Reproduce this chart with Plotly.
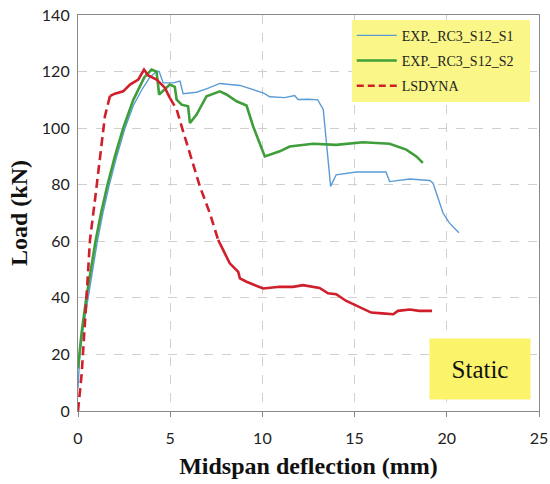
import plotly.graph_objects as go

# ---- data ----
s1_x = [0, 0.1, 0.3, 0.55, 0.8, 1.05, 1.35, 1.7, 2.1, 2.55, 3.0, 3.5, 3.9, 4.26, 4.4, 4.62, 5.16, 5.53, 5.7,
        6.43, 7.0, 7.69, 8.78, 10.04, 10.4, 10.76, 11.2, 11.75, 11.93, 12.5, 13.0, 13.3, 13.7, 14.0, 15.1,
        16.7, 16.9, 18.0, 19.07, 19.25, 19.8, 20.15, 20.66]
s1_y = [8, 20, 30, 40, 50, 60, 70, 80, 90, 100, 108, 114, 118, 120, 120, 116, 116, 116.6, 112.2,
        112.7, 114, 115.8, 115.1, 112.5, 111.1, 111, 110.8, 111.5, 110.1, 110.2, 110, 106.6, 79.4, 83.5, 84.5,
        84.5, 81.1, 82, 81.5, 80.6, 69.9, 66.4, 63]

s2_x = [0, 0.2, 0.45, 0.7, 0.95, 1.25, 1.6, 2.0, 2.45, 3.0, 3.6, 3.99, 4.26, 4.4, 4.71, 4.98, 5.25, 5.35,
        5.62, 5.97, 6.07, 6.43, 6.97, 7.69, 8.05, 8.6, 9.14, 9.5, 10.13, 10.4, 10.94, 11.48, 12.75, 14.0,
        15.45, 16.9, 17.8, 18.35, 18.7]
s2_y = [15, 28, 40, 50, 60, 70, 80, 90, 100, 110, 118, 120.7, 120, 111.9, 113.6, 115.4, 114.6, 110.1,
        108.3, 107.7, 101.8, 104.8, 111.3, 113, 111.9, 109.5, 108, 100.6, 90, 90.6, 91.8, 93.5, 94.5, 94.1,
        95, 94.5, 92.4, 90, 87.7]

ls_x = [0, 0.2, 0.43, 0.65, 0.92, 1.19, 1.46, 1.73, 2.0, 2.45, 2.82, 3.27, 3.58, 3.81, 4.26, 4.71, 4.98,
        5.35, 5.62, 6.07, 6.61, 7.15, 7.6, 8.23, 8.69, 8.78, 9.14, 10.04, 10.94, 11.66, 12.2, 13.1, 13.56,
        14.0, 14.55, 15.28, 15.9, 16.5, 17.1, 17.35, 18.0, 18.5, 19.2]
ls_y = [0, 13.2, 36.8, 60.5, 74.6, 90, 104.2, 111.3, 112.2, 113, 115.4, 117.2, 120.7, 118.6, 117.2, 114.3,
        110.7, 106.6, 100.6, 91.2, 79.4, 69.9, 60.5, 52.2, 49.2, 46.9, 45.7, 43.3, 43.9, 43.9, 44.5, 43.5,
        41.6, 41.3, 38.9, 36.8, 34.8, 34.5, 34.2, 35.4, 35.9, 35.4, 35.4]

names = ["EXP._RC3_S12_S1", "EXP._RC3_S12_S2", "LSDYNA"]
x_ticks = [0, 5, 10, 15, 20, 25]
y_ticks = [0, 20, 40, 60, 80, 100, 120, 140]

BLUE = "#5B9BD5"
GREEN = "#3E9E3A"
RED = "#D01F2A"
RED_DASH = "9px,5px"
PAD = "\u00a0\u00a0\u00a0"  # right padding inside legend box

fig = go.Figure()
fig.add_trace(go.Scatter(x=s1_x, y=s1_y, mode="lines", name=names[0] + PAD,
                         line=dict(color=BLUE, width=1.4), legendgroup="a"))
fig.add_trace(go.Scatter(x=s2_x, y=s2_y, mode="lines", name=names[1] + PAD,
                         line=dict(color=GREEN, width=2.6), legendgroup="b"))

# LSDYNA curve: dashed on steep parts, solid-looking on flat parts
segments = [(0, 7, "dash"), (7, 16, "solid"), (16, 22, "dash"), (22, len(ls_x) - 1, "solid")]
for a, b, d in segments:
    fig.add_trace(go.Scatter(x=ls_x[a:b + 1], y=ls_y[a:b + 1], mode="lines", name=names[2],
                             line=dict(color=RED, width=2.6, dash=RED_DASH if d == "dash" else "solid"),
                             legendgroup="c", showlegend=False))
# legend entry for LSDYNA
fig.add_trace(go.Scatter(x=[None], y=[None], mode="lines", name=names[2],
                         line=dict(color=RED, width=2.6, dash="7px,4px"), legendgroup="c"))

grid = dict(showgrid=True, gridcolor="#D0D0D0", griddash="dash", gridwidth=1)
fig.update_xaxes(range=[0, 25], tickvals=x_ticks, ticks="outside", ticklen=5, tickcolor="#888",
                 showline=True, linecolor="#888", linewidth=1.2, mirror=True, zeroline=False,
                 automargin=False, ticklabelstandoff=8,
                 tickfont=dict(family="Lato", size=16, color="#222"),
                 title=dict(text="<b>Midspan deflection (mm)</b>", standoff=10,
                            font=dict(family="Liberation Serif", size=24, color="#111")), **grid)
fig.update_yaxes(range=[0, 140], tickvals=y_ticks, ticks="", showline=True, linecolor="#888",
                 linewidth=1.2, mirror=True, zeroline=False, automargin=False, ticklabelstandoff=4,
                 tickfont=dict(family="Lato", size=16, color="#222"),
                 title=dict(text="<b>Load (kN)</b>", standoff=7,
                            font=dict(family="Liberation Serif", size=24, color="#111")), **grid)

fig.update_layout(
    width=550, height=484, margin=dict(l=78, r=11, t=15, b=73),
    paper_bgcolor="white", plot_bgcolor="white",
    legend=dict(x=0.98, y=0.988, xanchor="right", yanchor="top", bgcolor="#FAF687",
                font=dict(family="Liberation Serif", size=14, color="#222"), tracegroupgap=4,
                itemwidth=40, borderwidth=0),
    annotations=[dict(text="Static", xref="paper", yref="paper", x=0.983, y=0.028,
                      xanchor="right", yanchor="bottom", showarrow=False, bgcolor="#FBF46A",
                      width=98, height=58, font=dict(family="Liberation Serif", size=25, color="#111"))],
)

fig.write_html("out.html")
